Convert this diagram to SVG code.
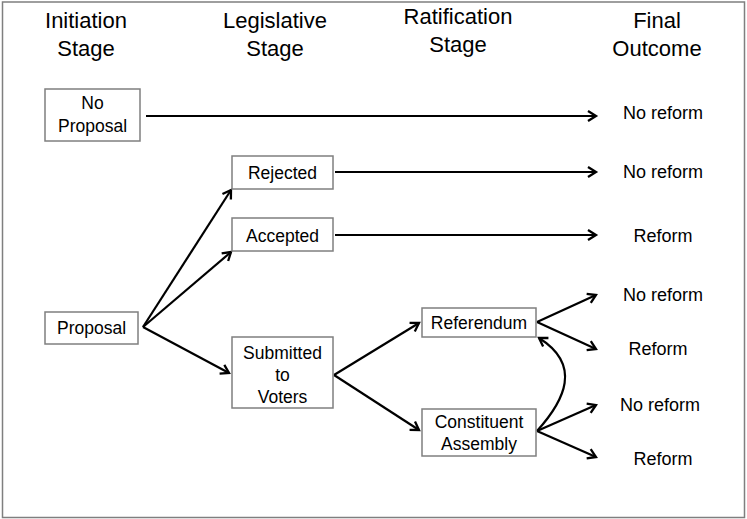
<svg xmlns="http://www.w3.org/2000/svg" width="747" height="519" viewBox="0 0 747 519">
<defs>
<marker id="ah" markerUnits="userSpaceOnUse" markerWidth="14" markerHeight="14" refX="10" refY="7" orient="auto">
<path d="M2,2 L10,7 L2,12" fill="none" stroke="#000" stroke-width="2.3" stroke-linejoin="miter"/>
</marker>
<style>
.hd{font-family:"Liberation Sans",Arial,sans-serif;font-size:22px;fill:#000;text-anchor:middle}
.bx{fill:#fff;stroke:#7f7f7f;stroke-width:1.5}
.bt{font-family:"Liberation Sans",Arial,sans-serif;font-size:17.5px;fill:#000;text-anchor:middle}
.ot{font-family:"Liberation Sans",Arial,sans-serif;font-size:18px;fill:#000;text-anchor:middle}
.cn{fill:none;stroke:#000;stroke-width:2.2;marker-end:url(#ah)}
</style>
</defs>
<rect x="0" y="0" width="747" height="519" fill="#fff"/>
<rect x="2.5" y="2" width="742" height="515.5" fill="none" stroke="#7f7f7f" stroke-width="1.5"/>
<g id="headers">
<text class="hd" x="86" y="28">Initiation</text>
<text class="hd" x="86" y="56">Stage</text>
<text class="hd" x="275" y="28">Legislative</text>
<text class="hd" x="275" y="56">Stage</text>
<text class="hd" x="458" y="24">Ratification</text>
<text class="hd" x="458" y="52">Stage</text>
<text class="hd" x="657" y="28">Final</text>
<text class="hd" x="657" y="56">Outcome</text>
</g>
<g id="connectors">
<path class="cn" d="M146,116 H596"/>
<path class="cn" d="M335,172 H596"/>
<path class="cn" d="M335,235 H596"/>
<path class="cn" d="M143,327 L231,190"/>
<path class="cn" d="M143,327 L231,252"/>
<path class="cn" d="M143,327 L229,373"/>
<path class="cn" d="M334,375 L419,323"/>
<path class="cn" d="M334,375 L419,430"/>
<path class="cn" d="M537,322 L596,295"/>
<path class="cn" d="M537,322 L596,349"/>
<path class="cn" d="M537,431 L596,405"/>
<path class="cn" d="M537,431 L596,457"/>
<path class="cn" d="M537,431 C565,400 582,365 539,338"/>
</g>
<g id="no-proposal">
<rect class="bx" x="45" y="89" width="95" height="52"/>
<text class="bt" x="92.5" y="109">No</text>
<text class="bt" x="92.5" y="132">Proposal</text>
</g>
<g id="proposal">
<rect class="bx" x="45" y="312" width="93" height="32"/>
<text class="bt" x="91.5" y="334">Proposal</text>
</g>
<g id="rejected">
<rect class="bx" x="232" y="156" width="101" height="33"/>
<text class="bt" x="282.5" y="179">Rejected</text>
</g>
<g id="accepted">
<rect class="bx" x="232" y="218" width="101" height="33"/>
<text class="bt" x="282.5" y="242">Accepted</text>
</g>
<g id="submitted">
<rect class="bx" x="232" y="337" width="101" height="71"/>
<text class="bt" x="282.5" y="359">Submitted</text>
<text class="bt" x="282.5" y="381">to</text>
<text class="bt" x="282.5" y="403">Voters</text>
</g>
<g id="referendum">
<rect class="bx" x="422" y="308" width="114" height="29"/>
<text class="bt" x="479" y="329">Referendum</text>
</g>
<g id="constituent-assembly">
<rect class="bx" x="422" y="409" width="114" height="47"/>
<text class="bt" x="479" y="428">Constituent</text>
<text class="bt" x="479" y="450">Assembly</text>
</g>
<g id="outcomes">
<text class="ot" x="663" y="119">No reform</text>
<text class="ot" x="663" y="178">No reform</text>
<text class="ot" x="663" y="242">Reform</text>
<text class="ot" x="663" y="301">No reform</text>
<text class="ot" x="658" y="355">Reform</text>
<text class="ot" x="660" y="411">No reform</text>
<text class="ot" x="663" y="465">Reform</text>
</g>
</svg>
